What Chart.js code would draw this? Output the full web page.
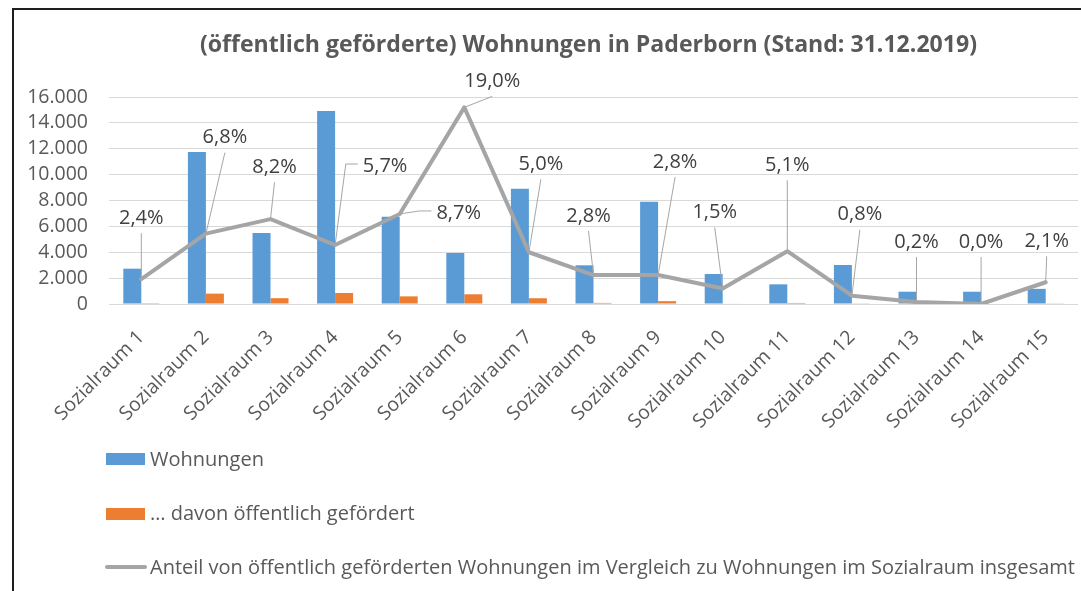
<!DOCTYPE html>
<html><head><meta charset="utf-8">
<script src="https://cdn.jsdelivr.net/npm/chart.js@4"></script>
<style>html,body{margin:0;padding:0;background:#fff;overflow:hidden}canvas{display:block}</style>
</head><body>
<canvas id="c" width="1081" height="591"></canvas>
<script>
const titleText = '(öffentlich geförderte) Wohnungen in Paderborn (Stand: 31.12.2019)';
const categories = ['Sozialraum 1','Sozialraum 2','Sozialraum 3','Sozialraum 4','Sozialraum 5','Sozialraum 6','Sozialraum 7','Sozialraum 8','Sozialraum 9','Sozialraum 10','Sozialraum 11','Sozialraum 12','Sozialraum 13','Sozialraum 14','Sozialraum 15'];
const wohnungen = [2730, 11750, 5490, 14920, 6750, 3940, 8910, 2990, 7910, 2320, 1520, 3015, 950, 950, 1170];
const davonGefoerdert = [65, 800, 450, 850, 590, 750, 445, 85, 220, 35, 80, 25, 2, 0, 25];
const anteilProzent = [2.4, 6.8, 8.2, 5.7, 8.7, 19.0, 5.0, 2.8, 2.8, 1.5, 5.1, 0.8, 0.2, 0.0, 2.1];
const yTickValues = [0, 2000, 4000, 6000, 8000, 10000, 12000, 14000, 16000];
const seriesNames = ['Wohnungen', '… davon öffentlich gefördert', 'Anteil von öffentlich geförderten Wohnungen im Vergleich zu Wohnungen im Sozialraum insgesamt'];

// label placement (style): offset of label centre from its point, and leader anchor
const labelPlacement = [[0,-61,'b'],[19,-96,'b'],[4,-52,'b'],[50,-79,'l'],[59,-1,'l'],[28,-26,'b'],[12,-88,'b'],[-5,-59,'b'],[17,-113,'b'],[-8,-76,'b'],[0,-86,'b'],[8,-81,'b'],[0,-60,'b'],[0,-62,'b'],[1,-41,'b']];

const BLUE = '#5B9BD5', ORANGE = '#ED7D31', GRAY = '#A5A5A5', TXT = '#595959';
const FONT = '"Open Sans", "DejaVu Sans", sans-serif';

function fmtThousands(v){ return String(v).replace(/\B(?=(\d{3})+(?!\d))/g, '.'); }
function fmtPct(v){ return v.toFixed(1).replace('.', ',') + '%'; }

const decorPlugin = {
  id: 'decor',
  beforeDraw(chart){
    const ctx = chart.ctx;
    ctx.save();
    ctx.fillStyle = '#fff';
    ctx.fillRect(0,0,chart.width,chart.height);
    ctx.fillStyle = '#1e1e1e';
    ctx.fillRect(12, 8, chart.width - 12, 2);
    ctx.fillRect(12, 8, 2, chart.height - 8);
    // title
    ctx.font = 'bold 23px ' + FONT;
    const w = ctx.measureText(titleText).width;
    ctx.translate(588.5, 52);
    ctx.scale(777 / w, 1);
    ctx.textAlign = 'center';
    ctx.textBaseline = 'alphabetic';
    ctx.fillStyle = TXT;
    ctx.fillText(titleText, 0, 0);
    ctx.restore();
  },
  afterDraw(chart){
    const ctx = chart.ctx;
    ctx.save();
    // data labels with leader lines
    const meta = chart.getDatasetMeta(2);
    ctx.font = '20px ' + FONT;
    meta.data.forEach((pt, i) => {
      const [dx, dy, anchor] = labelPlacement[i];
      const tx = pt.x + dx, ty = pt.y + dy;
      const txt = fmtPct(anteilProzent[i]);
      const tw = ctx.measureText(txt).width;
      ctx.strokeStyle = '#A6A6A6';
      ctx.lineWidth = 1;
      ctx.beginPath();
      if (anchor === 'b') {
        ctx.moveTo(tx, ty + 15);
        ctx.lineTo(pt.x, pt.y);
      } else {
        const lx = tx - tw/2 - 5;
        ctx.moveTo(lx, ty - 2);
        ctx.lineTo(lx - 12, ty - 2);
        ctx.lineTo(pt.x, pt.y);
      }
      ctx.stroke();
      ctx.fillStyle = '#404040';
      ctx.textAlign = 'center';
      ctx.textBaseline = 'middle';
      ctx.fillText(txt, tx, ty);
    });
    // legend
    ctx.font = '20px ' + FONT;
    ctx.textAlign = 'left';
    ctx.textBaseline = 'alphabetic';
    ctx.fillStyle = BLUE;
    ctx.fillRect(106, 453, 39, 12);
    ctx.fillStyle = ORANGE;
    ctx.fillRect(106, 508, 39, 12);
    ctx.strokeStyle = GRAY;
    ctx.lineWidth = 4;
    ctx.lineCap = 'round';
    ctx.beginPath(); ctx.moveTo(107, 567); ctx.lineTo(145, 567); ctx.stroke();
    ctx.fillStyle = TXT;
    ctx.fillText(chart.data.datasets[0].label, 150, 466);
    ctx.fillText(chart.data.datasets[1].label, 150, 520);
    ctx.fillText(chart.data.datasets[2].label, 150, 574);
    ctx.restore();
  }
};

new Chart(document.getElementById('c'), {
  type: 'bar',
  data: {
    labels: categories,
    datasets: [
      { type: 'bar', label: seriesNames[0], data: wohnungen, backgroundColor: BLUE, yAxisID: 'y', order: 1, categoryPercentage: 0.557, barPercentage: 1.0 },
      { type: 'bar', label: seriesNames[1], data: davonGefoerdert, backgroundColor: ORANGE, yAxisID: 'y', order: 2, categoryPercentage: 0.557, barPercentage: 1.0 },
      { type: 'line', label: seriesNames[2], data: anteilProzent, borderColor: GRAY, borderWidth: 4, pointRadius: 0, tension: 0, yAxisID: 'y2', order: 0, borderJoinStyle: 'round', borderCapStyle: 'round' }
    ]
  },
  options: {
    responsive: false,
    animation: false,
    devicePixelRatio: 1,
    layout: { padding: { top: 97, left: 14, right: 3, bottom: 157 } },
    plugins: { legend: { display: false }, title: { display: false }, tooltip: { enabled: false } },
    scales: {
      x: {
        grid: { display: false },
        border: { display: false },
        ticks: { color: TXT, font: { family: FONT, size: 19.5 }, minRotation: 45, maxRotation: 45, autoSkip: false, padding: 14 },
        afterFit: s => { s.height = 130; }
      },
      y: {
        min: 0, max: 16000,
        afterBuildTicks: s => { s.ticks = yTickValues.map(v => ({ value: v })); },
        grid: { color: '#D9D9D9', lineWidth: 1, drawTicks: false },
        border: { display: false },
        ticks: { color: TXT, font: { family: FONT, size: 19.5 }, padding: 21, autoSkip: false, callback: v => fmtThousands(v) },
        afterFit: s => { s.width = 95; }
      },
      y2: { display: false, min: 0, max: 20, position: 'right' }
    }
  },
  plugins: [decorPlugin]
});
</script>
</body></html>
